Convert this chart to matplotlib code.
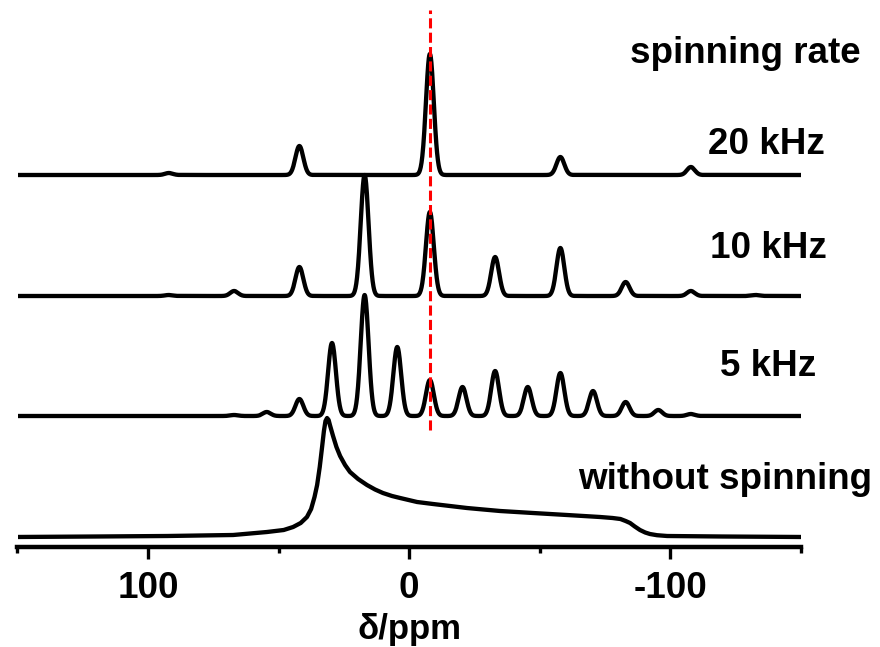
import numpy as np
import matplotlib
matplotlib.use("Agg")
import matplotlib.pyplot as plt
from matplotlib.ticker import FixedLocator

# ── data ──────────────────────────────────────────────────────────────────────
# spinning sideband positions (ppm) and heights (arb. units) per spinning rate
PPM_20K = [92, 42, -8, -58, -108]
INT_20K = [2, 29, 121, 18, 8]

PPM_10K = [92, 67, 42, 17, -8, -33, -58, -83, -108, -133]
INT_10K = [1, 5, 29, 121, 84, 39, 48, 14, 5, 1]

PPM_5K = [67, 54.5, 42, 29.5, 17, 4.5, -8, -20.5, -33, -45.5, -58, -70.5, -83, -95.5, -108]
INT_5K = [1, 4, 17, 73, 121, 69, 36, 29, 45, 29, 43, 25, 14, 6, 2]

PPM_STATIC = [151, 120, 92.7, 67.4, 54.4, 48, 44.4, 41.5, 39.1, 37.5, 36.2, 35.2,
              34.2, 33.3, 32.6, 32.0, 31.4, 30.8, 30.3, 29.1, 27.8, 26.4, 24.5,
              22.6, 19.5, 16.1, 13.0, 10.0, 6.5, 3.4, -3.1, -9.2, -15.7, -22.2,
              -28.5, -34.9, -47.5, -60.5, -73.2, -78, -81, -83, -84.7, -86.5,
              -88.5, -90.5, -92.3, -95, -98.9, -120, -151]
INT_STATIC = [0, 0.5, 1, 2, 5, 7, 10, 14, 20, 28, 40, 52,
              70, 90, 106, 116, 119, 117, 112, 101, 90, 81, 72,
              65, 58, 52, 47.5, 44, 41, 39, 35, 33, 31, 29,
              27.5, 26, 24, 22, 20, 19, 18, 16, 14, 10.5,
              7, 4.5, 3, 1.8, 1, 0.5, 0]

OFFSETS = {"20 kHz": 362, "10 kHz": 241, "5 kHz": 121, "static": 0}
ISO_PPM = -8
LINE_SIGMA = 1.5  # ppm, line shape width

XTICKS_MAJOR = [100, 0, -100]
XTICKS_MINOR = [150, 50, -50, -150]

W, H = 880, 647


def spectrum(x, ppm, amp, sigma=LINE_SIGMA):
    y = np.zeros_like(x)
    for p, a in zip(ppm, amp):
        y += a * np.exp(-0.5 * ((x - p) / sigma) ** 2)
    return y


fig = plt.figure(figsize=(W / 100, H / 100), dpi=100)
ax = fig.add_axes([17.5 / W, 100 / H, (800.5 - 17.5) / W, 547 / H])

x = np.linspace(-151, 151, 4000)
lw = 3.1
ax.plot(x, OFFSETS["20 kHz"] + spectrum(x, PPM_20K, INT_20K), color="k", lw=lw)
ax.plot(x, OFFSETS["10 kHz"] + spectrum(x, PPM_10K, INT_10K), color="k", lw=lw)
ax.plot(x, OFFSETS["5 kHz"] + spectrum(x, PPM_5K, INT_5K), color="k", lw=lw)
ax.plot(PPM_STATIC, np.array(INT_STATIC) + OFFSETS["static"], color="k", lw=lw,
        solid_joinstyle="round")

# isotropic shift marker
ax.plot([ISO_PPM, ISO_PPM], [107, 527], color="red", lw=2.2, ls=(0, (3.3, 1.4)), zorder=3)

ax.set_xlim(150, -150)
ax.set_ylim(-10, 537)

for s in ["left", "right", "top"]:
    ax.spines[s].set_visible(False)
ax.spines["bottom"].set_linewidth(3.2)
ax.spines["bottom"].set_capstyle("projecting")
ax.set_yticks([])
ax.xaxis.set_major_locator(FixedLocator(XTICKS_MAJOR))
ax.xaxis.set_minor_locator(FixedLocator(XTICKS_MINOR))
ax.set_xticklabels(["100", "0", "-100"])
ax.tick_params(axis="x", which="major", length=8.6, width=2.4, pad=9,
               labelsize=26.5)
ax.tick_params(axis="x", which="minor", length=4.5, width=2.4)
for lab in ax.get_xticklabels():
    lab.set_family("Liberation Sans")
    lab.set_fontweight("bold")

fig.text(409 / W, 1 - 630 / H, "δ/ppm", ha="center", va="center",
         family="Liberation Sans", fontweight="bold", fontsize=25)

lab_kw = dict(ha="center", va="baseline", family="Liberation Sans",
              fontweight="bold", fontsize=26.5)
fig.text(745 / W, 1 - 63 / H, "spinning rate", **lab_kw)
fig.text(766 / W, 1 - 154 / H, "20 kHz", **lab_kw)
fig.text(768 / W, 1 - 258 / H, "10 kHz", **lab_kw)
fig.text(768 / W, 1 - 376 / H, "5 kHz", **lab_kw)
fig.text(725 / W, 1 - 489 / H, "without spinning", **lab_kw)

fig.savefig("out.png", dpi=100)
